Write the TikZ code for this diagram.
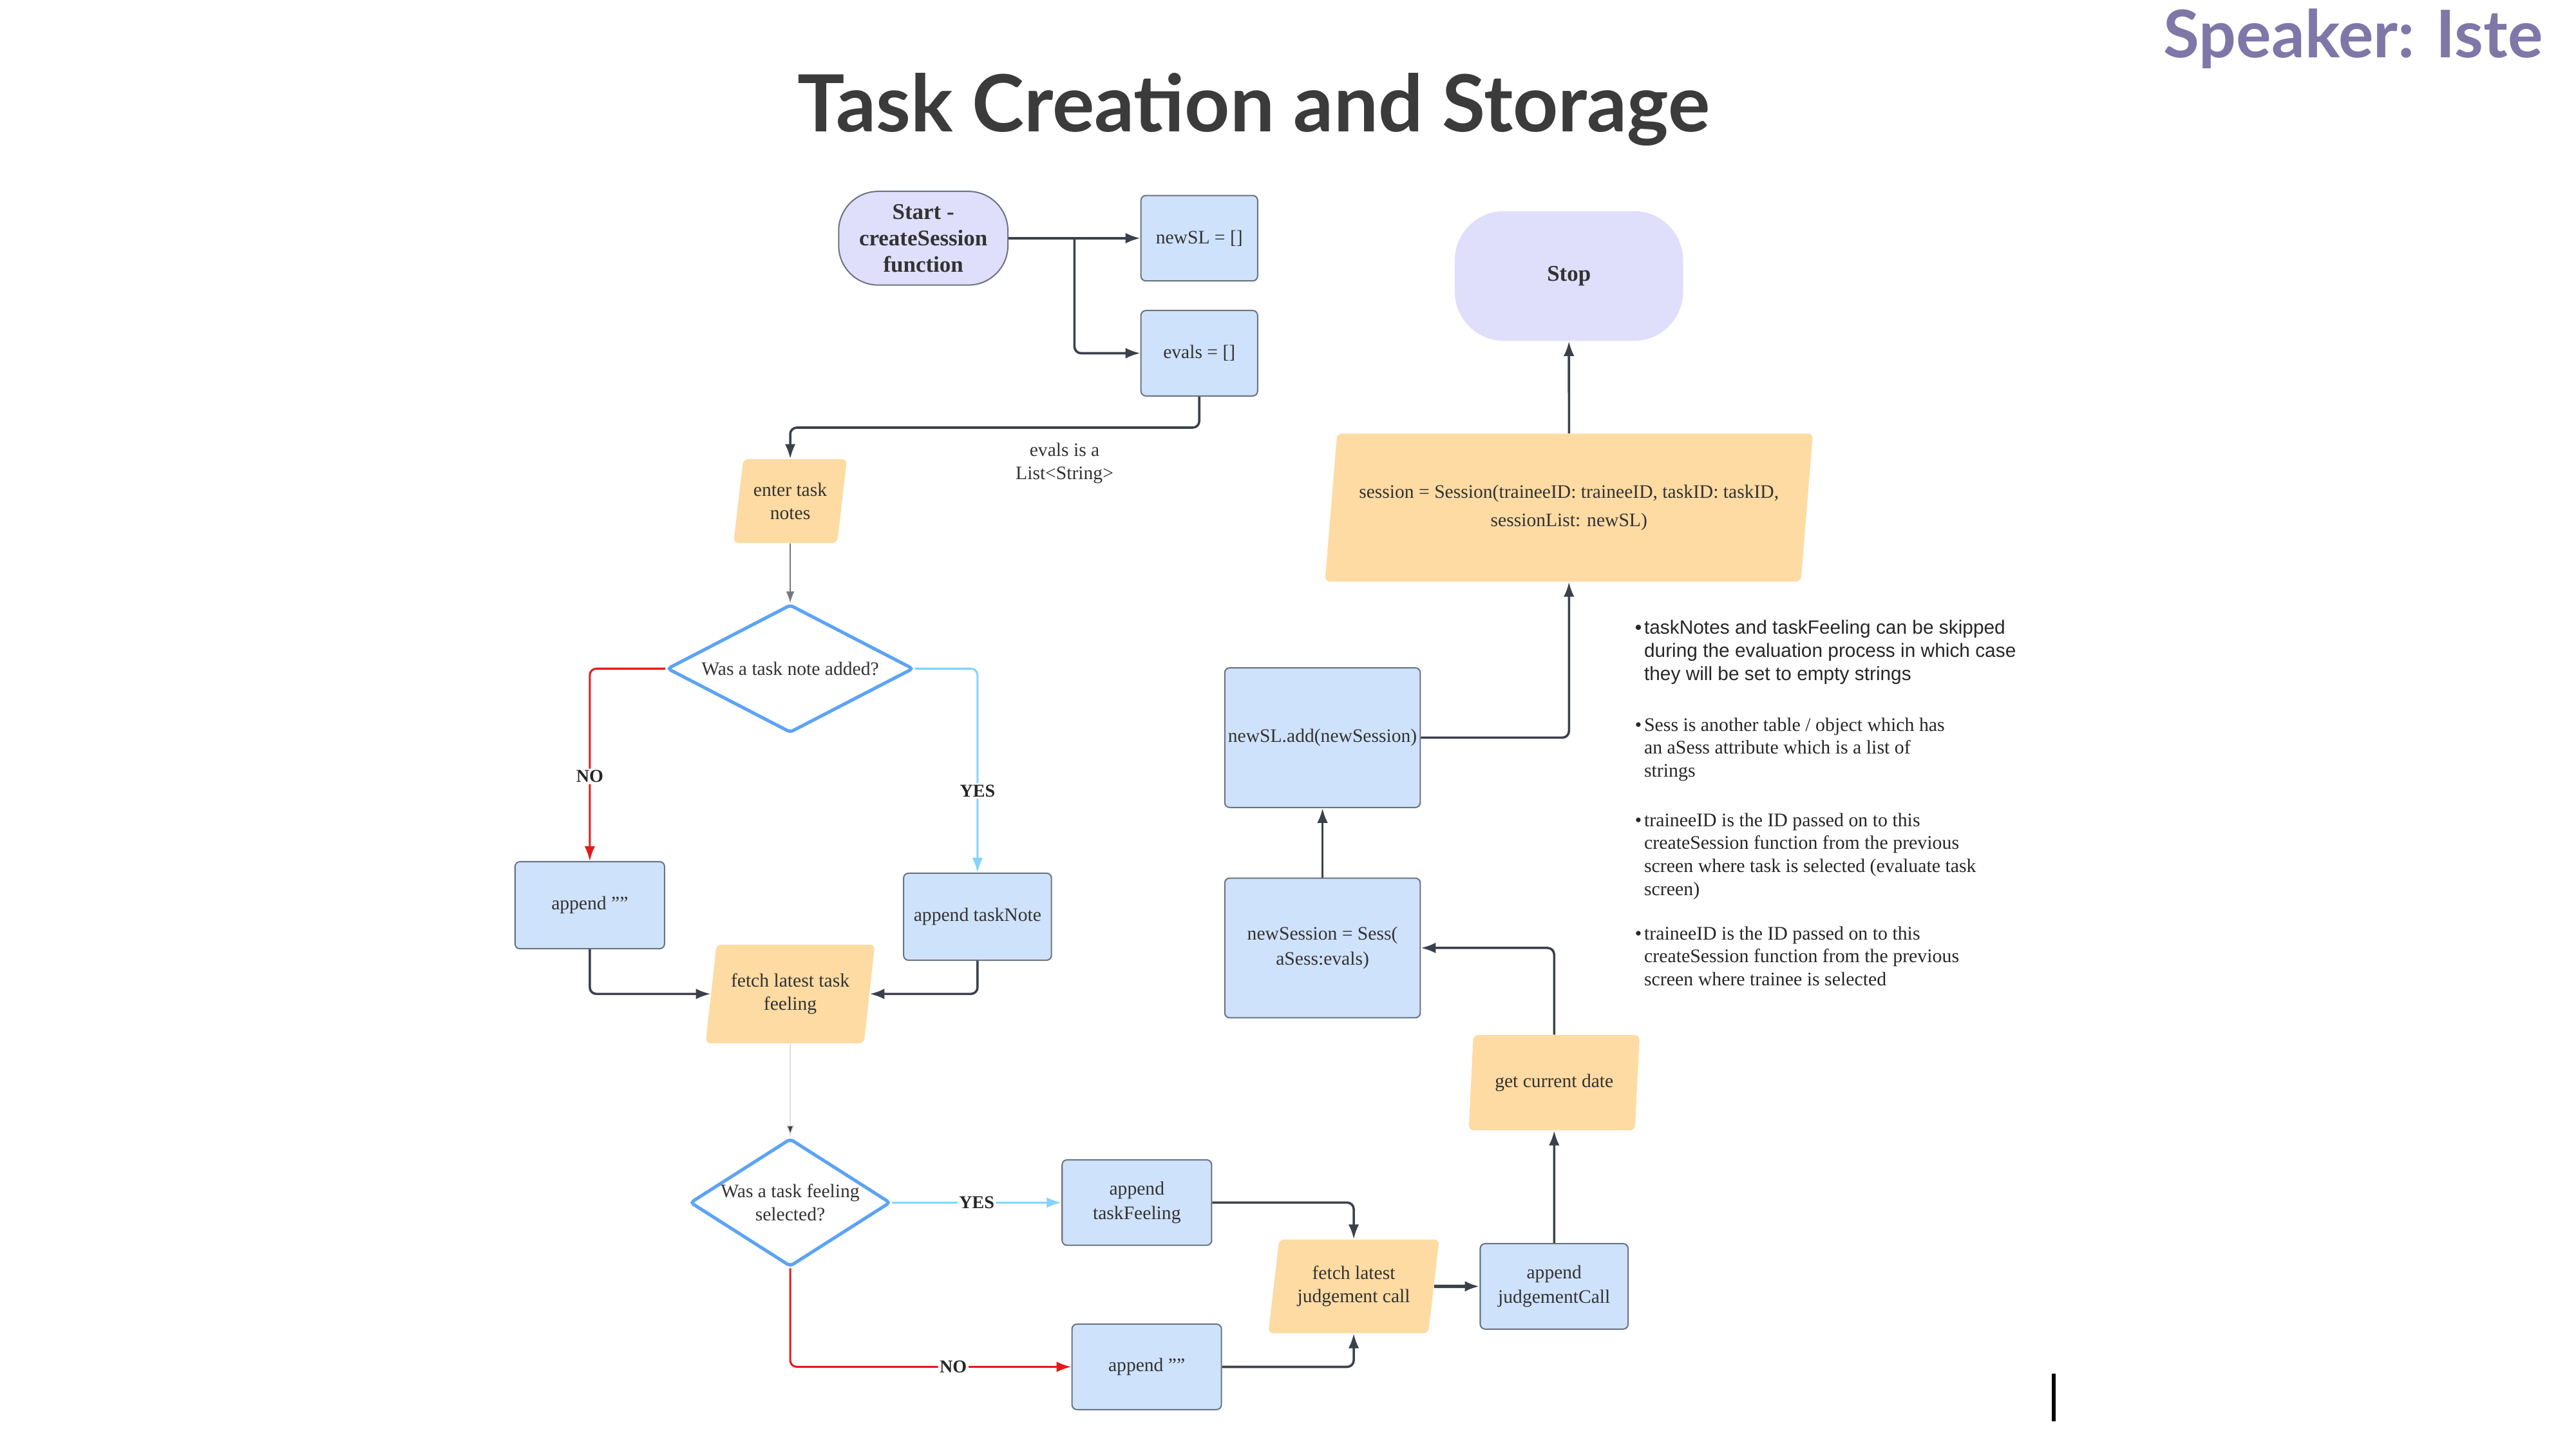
\documentclass[tikz,border=0pt]{standalone}
\usepackage{fontspec}
\setmainfont{Liberation Serif}
\newfontfamily\notesans{Liberation Sans}
\newfontfamily\titlefont{Lato}
\usepackage{tikz}
\usetikzlibrary{shapes.geometric,arrows.meta,calc}
\definecolor{procfill}{HTML}{CFE2FB}
\definecolor{procline}{HTML}{6B7480}
\definecolor{iofill}{HTML}{FDDBA3}
\definecolor{termfill}{HTML}{DFDFFB}
\definecolor{decline}{HTML}{5CA3F5}
\definecolor{flowdark}{HTML}{3A414B}
\definecolor{nored}{HTML}{E31B1B}
\definecolor{yesblue}{HTML}{84D3FD}
\definecolor{titlegray}{HTML}{3B3B3B}
\definecolor{speakercol}{HTML}{7E77A7}
\definecolor{nodetext}{HTML}{333333}
\tikzset{
  procbox/.style={ draw=procline, line width=0.8pt, fill=procfill, rounded corners=3pt,
    align=center, text=nodetext, inner sep=0pt, font=\fontsize{11.6}{15}\selectfont }
}
\tikzset{
  iobox/.style={ trapezium, trapezium left angle=75, trapezium right angle=105,
    trapezium stretches body, fill=iofill, rounded corners=3pt, align=center,
    text=nodetext, inner sep=0pt, font=\fontsize{11.6}{14}\selectfont }
}
\tikzset{
  termbox/.style={ fill=termfill, rounded corners=24pt, align=center, text=nodetext,
    inner sep=0pt, font=\bfseries\fontsize{13.7}{16}\selectfont }
}
\tikzset{
  decbox/.style={ diamond, draw=decline, line width=2pt, fill=white, rounded corners=2pt,
    align=center, text=nodetext, inner xsep=-30pt, inner ysep=-6pt,
    font=\fontsize{11.6}{14}\selectfont }
}
\tikzset{
  flow/.style={ draw=flowdark, line width=1.4pt, rounded corners=4pt,
    -{Latex[length=9pt,width=6.5pt]} }
}
\tikzset{
  thinflow/.style={ draw=flowdark!70, line width=0.7pt, -{Latex[length=7pt,width=5pt]} }
}
\tikzset{
  faintflow/.style={ draw=black!15, line width=0.6pt, -{Latex[length=7pt,width=5pt,fill=flowdark]} }
}
\tikzset{
  noflow/.style={ draw=nored, line width=1.2pt, rounded corners=4pt, -{Latex[length=9pt,width=6.5pt]} }
}
\tikzset{
  yesflow/.style={ draw=yesblue, line width=1.2pt, rounded corners=4pt, -{Latex[length=9pt,width=6.5pt]} }
}
\tikzset{
  lbl/.style={ fill=white, inner sep=1pt, text=black!85, font=\bfseries\fontsize{11}{13}\selectfont }
}

\begin{document}
\begin{tikzpicture}[x=1pt, y=-1pt]
  \useasboundingbox (0,0) rectangle (1568,882);
  % heading
  \node[anchor=base, inner sep=0pt, text=titlegray, font=\titlefont\bfseries\fontsize{48}{56}\selectfont] (title) at (763,80) {Task Creation and Storage};
  \node[anchor=base east, inner sep=0pt, text=speakercol, font=\titlefont\bfseries\fontsize{40}{46}\selectfont] (speaker) at (1548,35) {Speaker: Iste};

  % set up
  \node[termbox, draw=procline, line width=0.8pt, minimum width=103pt, minimum height=57pt] (start) at (562,145) {Start -\\createSession\\function};
  \node[procbox, minimum width=71pt, minimum height=52pt] (newsl) at (730,145) {newSL = []};
  \node[procbox, minimum width=71pt, minimum height=52pt] (evals) at (730,215) {evals = []};
  \node[align=center, text=nodetext, font=\fontsize{11.6}{14}\selectfont] (evalnote) at (648,282) {evals is a\\List<String>};
  \coordinate (split) at (654,145);

  % task note
  \node[iobox, minimum width=69pt, minimum height=51pt] (notes) at (481,305) {enter task\\notes};
  \node[decbox, minimum width=150pt, minimum height=78pt] (d1) at (481,407) {Was a task note added?};
  \node[procbox, minimum width=91pt, minimum height=53pt] (app1) at (359,551) {append ""};
  \node[procbox, minimum width=90pt, minimum height=53pt] (appnote) at (595,558) {append taskNote};
  \node[iobox, minimum width=103pt, minimum height=60pt] (fetch1) at (481,605) {fetch latest task\\feeling};

  % task feeling
  \node[decbox, minimum width=122pt, minimum height=78pt] (d2) at (481,732) {Was a task feeling\\selected?};
  \node[procbox, minimum width=91pt, minimum height=52pt] (appfeel) at (692,732) {append\\taskFeeling};
  \node[procbox, minimum width=91pt, minimum height=52pt] (app2) at (698,832) {append ""};
  \node[iobox, minimum width=104pt, minimum height=57pt] (fetch2) at (824,783) {fetch latest\\judgement call};
  \node[procbox, minimum width=90pt, minimum height=52pt] (appjudge) at (946,783) {append\\judgementCall};

  % session
  \node[iobox, minimum width=104pt, minimum height=58pt] (date) at (946,659) {get current date};
  \node[procbox, minimum width=119pt, minimum height=85pt] (newsess) at (805,577) {newSession = Sess(\\aSess:evals)};
  \node[procbox, minimum width=119pt, minimum height=85pt] (addsl) at (805,449) {newSL.add(newSession)};
  \node[iobox, minimum width=297pt, minimum height=90pt, font=\fontsize{11.6}{17}\selectfont] (session) at (955,309) {session = Session(traineeID: traineeID, taskID: taskID,\\sessionList: newSL)};
  \node[termbox, rounded corners=30pt, minimum width=139pt, minimum height=79pt] (stop) at (955,168) {Stop};

  % connectors
  \draw[flow] (start.east) -- (newsl.west);
  \draw[flow] (split) |- (evals.west);
  \draw[flow] (evals.south) |- ($(notes.north)+(0,-19)$) -- (notes.north);
  \draw[thinflow] (notes.south) -- (d1.north);
  \draw[noflow] (d1.west) -| node[lbl, pos=0.78] {NO} (app1.north);
  \draw[yesflow] (d1.east) -| node[lbl, pos=0.8] {YES} (appnote.north);
  \draw[flow] (app1.south) |- (fetch1.west);
  \draw[flow] (appnote.south) |- (fetch1.east);
  \draw[faintflow] (fetch1.south) -- (d2.north);
  \draw[yesflow] (d2.east) -- node[lbl] {YES} (appfeel.west);
  \draw[noflow] (d2.south) |- node[lbl, pos=0.79] {NO} (app2.west);
  \draw[flow] (appfeel.east) -| (fetch2.north);
  \draw[flow] (app2.east) -| (fetch2.south);
  \draw[flow, line width=2pt] (fetch2.east) -- (appjudge.west);
  \draw[flow] (appjudge.north) -- (date.south);
  \draw[flow] (date.north) |- (newsess.east);
  \draw[flow] (newsess.north) -- (addsl.south);
  \draw[flow] (addsl.east) -| (session.south);
  \draw[flow] (session.north) -- (stop.south);

  % notes
  \node[anchor=base west, inner sep=0pt, text=black!85, font=\notesans\fontsize{11.7}{14}\selectfont] (note1) at (995,386)
    {\begin{tabular}[t]{@{}l@{\hspace{1.5pt}}l@{}}\textbullet & taskNotes and taskFeeling can be skipped\\ & during the evaluation process in which case\\ & they will be set to empty strings\end{tabular}};
  \node[anchor=base west, inner sep=0pt, text=black!85, font=\fontsize{11.7}{14}\selectfont] (note2) at (995,445)
    {\begin{tabular}[t]{@{}l@{\hspace{1.5pt}}l@{}}\textbullet & Sess is another table / object which has\\ & an aSess attribute which is a list of\\ & strings\end{tabular}};
  \node[anchor=base west, inner sep=0pt, text=black!85, font=\fontsize{11.7}{14}\selectfont] (note3) at (995,503)
    {\begin{tabular}[t]{@{}l@{\hspace{1.5pt}}l@{}}\textbullet & traineeID is the ID passed on to this\\ & createSession function from the previous\\ & screen where task is selected (evaluate task\\ & screen)\end{tabular}};
  \node[anchor=base west, inner sep=0pt, text=black!85, font=\fontsize{11.7}{14}\selectfont] (note4) at (995,572)
    {\begin{tabular}[t]{@{}l@{\hspace{1.5pt}}l@{}}\textbullet & traineeID is the ID passed on to this\\ & createSession function from the previous\\ & screen where trainee is selected\end{tabular}};

  \draw[line width=2.5pt] (1250,836) -- (1250,865);
\end{tikzpicture}
\end{document}
